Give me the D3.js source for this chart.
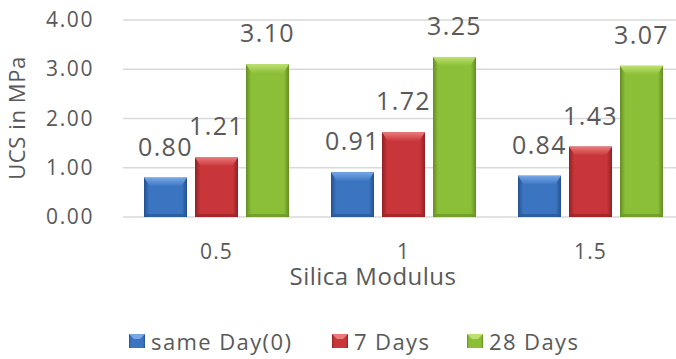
<!DOCTYPE html>
<html>
<head>
<meta charset="utf-8">
<script src="https://cdn.jsdelivr.net/npm/d3@7"></script>
<style>
  html, body { margin: 0; padding: 0; background: #fff; }
  svg { display: block; font-family: "Open Sans", "Noto Sans", sans-serif; }
</style>
</head>
<body>
<svg id="chart" width="676" height="359"></svg>
<script>
// Unconfined compressive strength by silica modulus and curing age
const categories = ["0.5", "1", "1.5"];
const seriesNames = ["same Day(0)", "7 Days", "28 Days"];
const sameDay = [0.80, 0.91, 0.84];
const days7 = [1.21, 1.72, 1.43];
const days28 = [3.10, 3.25, 3.07];
const yTicks = [0, 1, 2, 3, 4];

const seriesValues = [sameDay, days7, days28];
const palette = [
  { base: "#3b75c1", light: "#78a8e6", dark: "#24508e" },
  { base: "#c93639", light: "#ea7a7a", dark: "#8f2024" },
  { base: "#8cbf38", light: "#bde16f", dark: "#638c22" }
];

const svg = d3.select("#chart");
const textColor = "#595959";

const x = d3.scaleBand().domain(categories).range([123, 684]).paddingInner(0).paddingOuter(0);
const xs = d3.scaleBand().domain(d3.range(3)).range([21, x.bandwidth() - 21]).paddingInner(0.157).paddingOuter(0);
const y = d3.scaleLinear().domain([0, 4]).range([217, 20]);

// gradients for the bevelled bars
const defs = svg.append("defs");
palette.forEach((p, i) => {
  const g = defs.append("linearGradient").attr("id", "side" + i).attr("x1", 0).attr("x2", 1).attr("y1", 0).attr("y2", 0);
  g.append("stop").attr("offset", 0).attr("stop-color", p.dark);
  g.append("stop").attr("offset", 0.12).attr("stop-color", p.base);
  g.append("stop").attr("offset", 0.88).attr("stop-color", p.base);
  g.append("stop").attr("offset", 1).attr("stop-color", p.dark);
  const t = defs.append("linearGradient").attr("id", "top" + i).attr("x1", 0).attr("x2", 0).attr("y1", 0).attr("y2", 1);
  t.append("stop").attr("offset", 0).attr("stop-color", p.light);
  t.append("stop").attr("offset", 1).attr("stop-color", p.base);
});

// gridlines
svg.append("g")
  .selectAll("line")
  .data(yTicks)
  .join("line")
  .attr("x1", 123).attr("x2", 676)
  .attr("y1", d => y(d)).attr("y2", d => y(d))
  .attr("stroke", "#d9d9d9").attr("stroke-width", 1.6);

// y axis labels
const yAxis = d3.axisLeft(y).tickValues(yTicks).tickFormat(d3.format(".2f")).tickSize(0).tickPadding(0);
svg.append("g")
  .attr("transform", "translate(94,0)")
  .call(yAxis)
  .call(g => g.select(".domain").remove())
  .selectAll("text")
  .attr("font-size", 21).attr("fill", textColor).attr("letter-spacing", 1.6)
  .attr("font-family", "Open Sans");

// x axis labels
const xAxis = d3.axisBottom(x).tickSize(0).tickPadding(0);
svg.append("g")
  .attr("transform", "translate(0,244)")
  .call(xAxis)
  .call(g => g.select(".domain").remove())
  .selectAll("text")
  .attr("font-size", 21).attr("fill", textColor).attr("letter-spacing", 1.2)
  .attr("font-family", "Open Sans");

// bars
const groups = svg.append("g")
  .selectAll("g")
  .data(categories)
  .join("g")
  .attr("transform", d => `translate(${x(d)},0)`);

groups.each(function (cat, ci) {
  const g = d3.select(this);
  seriesValues.forEach((vals, si) => {
    const v = vals[ci];
    const bx = xs(si), bw = xs.bandwidth();
    const top = y(v), bottom = y(0);
    const bev = Math.min(9, (bottom - top) / 3);
    g.append("rect")
      .attr("x", bx).attr("y", top).attr("width", bw).attr("height", bottom - top)
      .attr("fill", `url(#side${si})`);
    // lit top facet
    g.append("path")
      .attr("d", `M${bx},${top} L${bx + bw},${top} L${bx + bw - 6},${top + bev} L${bx + 6},${top + bev} Z`)
      .attr("fill", `url(#top${si})`);
    // shaded bottom facet
    g.append("path")
      .attr("d", `M${bx},${bottom} L${bx + bw},${bottom} L${bx + bw - 4},${bottom - 3} L${bx + 4},${bottom - 3} Z`)
      .attr("fill", palette[si].dark).attr("opacity", 0.6);
    // value label
    g.append("text")
      .attr("x", bx + bw / 2).attr("y", top - 22)
      .attr("text-anchor", "middle")
      .attr("font-size", 25).attr("fill", textColor).attr("letter-spacing", 1.4)
      .text(d3.format(".2f")(v));
  });
});

// axis titles
svg.append("text")
  .attr("transform", "translate(25,118) rotate(-90)")
  .attr("text-anchor", "middle")
  .attr("font-size", 22).attr("fill", textColor).attr("letter-spacing", 0.6)
  .text("UCS in MPa");

svg.append("text")
  .attr("x", 373).attr("y", 285)
  .attr("text-anchor", "middle")
  .attr("font-size", 24).attr("fill", textColor).attr("letter-spacing", 0.5)
  .text("Silica Modulus");

// legend
const legendX = [129, 332, 467];
const legend = svg.append("g")
  .selectAll("g")
  .data(seriesNames)
  .join("g")
  .attr("transform", (d, i) => `translate(${legendX[i]},334)`);
legend.append("rect")
  .attr("width", 16).attr("height", 14)
  .attr("fill", (d, i) => `url(#side${i})`);
legend.append("path")
  .attr("d", "M0,0 L16,0 L11,5 L5,5 Z")
  .attr("fill", (d, i) => palette[i].light);
legend.append("text")
  .attr("x", 22).attr("y", 15.5)
  .attr("font-size", 22).attr("fill", textColor).attr("letter-spacing", 1.4)
  .text(d => d);
</script>
</body>
</html>
